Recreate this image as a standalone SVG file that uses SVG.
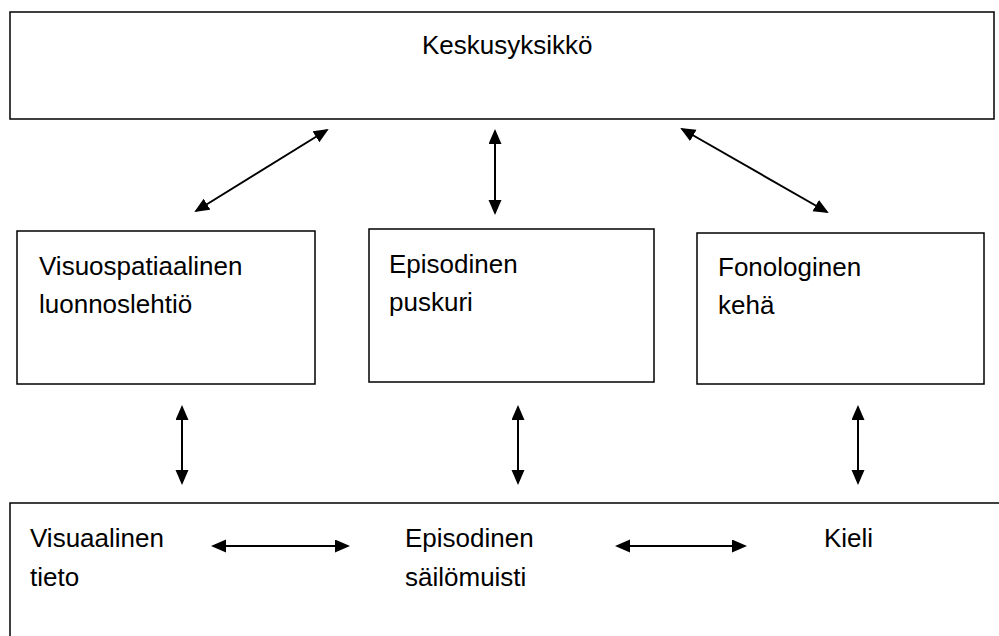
<svg xmlns="http://www.w3.org/2000/svg" width="999" height="636" viewBox="0 0 999 636">
<style>
.box{fill:#fff;stroke:#000;stroke-width:1.5}
.lbl{font-family:"Liberation Sans",Arial,sans-serif;font-size:26px;fill:#000}
.arr{stroke:#000;stroke-width:2;fill:none;marker-start:url(#ah);marker-end:url(#ah)}
</style>
<defs>
<marker id="ah" markerUnits="userSpaceOnUse" markerWidth="16" markerHeight="14" refX="13" refY="6.5" orient="auto-start-reverse">
<path d="M0,0 L15,6.5 L0,13 z" fill="#000"/>
</marker>
</defs>
<rect width="999" height="636" fill="#fff"/>
<g id="keskusyksikko">
<rect class="box" x="10" y="12" width="984" height="107"/>
<text class="lbl" x="422" y="54">Keskusyksikkö</text>
</g>
<g id="visuospatiaalinen">
<rect class="box" x="17" y="231" width="298" height="153"/>
<text class="lbl" x="39" y="275">Visuospatiaalinen</text>
<text class="lbl" x="39" y="313">luonnoslehtiö</text>
</g>
<g id="episodinen-puskuri">
<rect class="box" x="369" y="229" width="285" height="153"/>
<text class="lbl" x="389" y="273">Episodinen</text>
<text class="lbl" x="389" y="311">puskuri</text>
</g>
<g id="fonologinen">
<rect class="box" x="697" y="233" width="287" height="151"/>
<text class="lbl" x="718" y="276">Fonologinen</text>
<text class="lbl" x="718" y="314">kehä</text>
</g>
<g id="sailomuisti">
<path class="box" d="M10,640 V503 H1003"/>
<text class="lbl" x="30" y="547">Visuaalinen</text>
<text class="lbl" x="30" y="586">tieto</text>
<text class="lbl" x="405" y="547">Episodinen</text>
<text class="lbl" x="405" y="586">säilömuisti</text>
<text class="lbl" x="824" y="547">Kieli</text>
</g>
<g id="connectors">
<line class="arr" x1="196" y1="211" x2="327" y2="130"/>
<line class="arr" x1="495" y1="131" x2="495" y2="213"/>
<line class="arr" x1="682" y1="129" x2="827" y2="212"/>
<line class="arr" x1="182" y1="407" x2="182" y2="483"/>
<line class="arr" x1="518" y1="407" x2="518" y2="483"/>
<line class="arr" x1="858" y1="407" x2="858" y2="483"/>
<line class="arr" x1="213" y1="546" x2="348" y2="546"/>
<line class="arr" x1="617" y1="546" x2="745" y2="546"/>
</g>
</svg>
